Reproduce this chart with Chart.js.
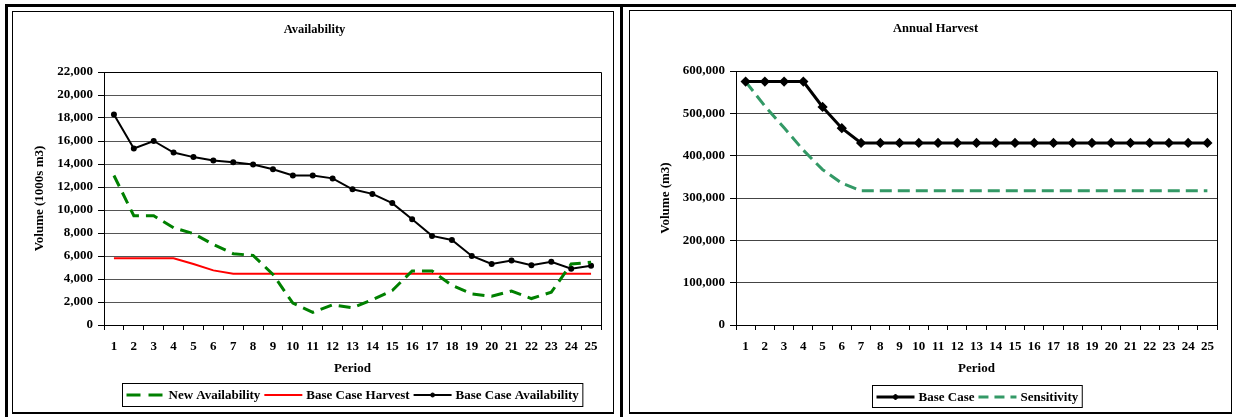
<!DOCTYPE html>
<html>
<head>
<meta charset="utf-8">
<script src="https://cdn.jsdelivr.net/npm/chart.js@4.4.1/dist/chart.umd.min.js"></script>
<style>
  html, body { margin: 0; padding: 0; background: #fff; }
  body { width: 1236px; height: 417px; position: relative; overflow: hidden; }
  .frame { position: absolute; border-top: 3px solid #000; border-left: 3px solid #000; box-sizing: border-box; }
  .panel { position: absolute; border: 1px solid #000; border-bottom-width: 2px; background: #fff; }
  .panel canvas { position: absolute; left: 0; top: 0; }
</style>
</head>
<body>
<div class="frame" style="left:5px;top:4px;width:1231px;height:413px"></div>
<div class="frame" style="left:620px;top:4px;width:616px;height:413px"></div>
<div class="panel" style="left:12px;top:11px;width:600px;height:400px">
  <canvas id="availabilityChart" width="600" height="400"></canvas>
</div>
<div class="panel" style="left:629px;top:10px;width:601px;height:401px">
  <canvas id="harvestChart" width="601" height="401"></canvas>
</div>
<script>
const periods = ['1', '2', '3', '4', '5', '6', '7', '8', '9', '10', '11', '12', '13',
  '14', '15', '16', '17', '18', '19', '20', '21', '22', '23', '24', '25'];

// Availability (1000s m3)
const newAvailability = [13000, 9500, 9500, 8450, 7950, 7000, 6200, 6050, 4400, 1900, 1100, 1750, 1500,
  2200, 3000, 4700, 4700, 3450, 2700, 2500, 2950, 2300, 2850, 5300, 5450];
const baseCaseHarvest = [5800, 5800, 5800, 5800, 5300, 4750, 4450, 4450, 4450, 4450, 4450, 4450, 4450,
  4450, 4450, 4450, 4450, 4450, 4450, 4450, 4450, 4450, 4450, 4450, 4450];
const baseCaseAvailability = [18300, 15350, 16000, 15000, 14600, 14300, 14150, 13950, 13550, 13000, 13000, 12750, 11800,
  11400, 10600, 9200, 7750, 7400, 6000, 5300, 5600, 5200, 5500, 4900, 5150];

// Annual harvest (m3)
const harvestBaseCase = [575000, 575000, 575000, 575000, 515000, 465000, 430000, 430000, 430000, 430000, 430000, 430000, 430000,
  430000, 430000, 430000, 430000, 430000, 430000, 430000, 430000, 430000, 430000, 430000, 430000];
const harvestSensitivity = [575000, 517000, 466000, 413000, 367000, 335000, 317000, 317000, 317000, 317000, 317000, 317000, 317000,
  317000, 317000, 317000, 317000, 317000, 317000, 317000, 317000, 317000, 317000, 317000, 317000];

const FONT = "'Liberation Serif', 'Times New Roman', serif";

// black frame on top and right of the plot area
const plotBorder = {
  id: 'plotBorder',
  afterDraw(chart) {
    const {ctx, chartArea: a} = chart;
    ctx.save();
    ctx.strokeStyle = '#000';
    ctx.lineWidth = 1;
    ctx.beginPath();
    ctx.moveTo(Math.round(a.left) + 0.5, Math.round(a.top) + 0.5);
    ctx.lineTo(Math.round(a.right) + 0.5, Math.round(a.top) + 0.5);
    ctx.lineTo(Math.round(a.right) + 0.5, Math.round(a.bottom) + 0.5);
    ctx.stroke();
    ctx.restore();
  }
};

// boxed legend under the axis, centred on the plot area
const boxLegend = {
  id: 'boxLegend',
  afterDraw(chart, args, opts) {
    const {ctx, chartArea: a} = chart;
    ctx.save();
    ctx.font = 'bold 13px ' + FONT;
    const items = chart.data.datasets.map(ds => ({ds, w: ctx.measureText(ds.label).width}));
    const total = opts.pad * 2 + items.reduce((s, it) => s + opts.sample + opts.gap + it.w, 0) + opts.spacing * (items.length - 1);
    const x0 = Math.round((a.left + a.right) / 2 - total / 2) + 0.5;
    const y0 = opts.top + 0.5;
    ctx.fillStyle = '#fff';
    ctx.fillRect(x0, y0, total, opts.height);
    ctx.strokeStyle = '#000';
    ctx.lineWidth = 1;
    ctx.strokeRect(x0, y0, total, opts.height);
    const cy = Math.round(y0 + opts.height / 2);
    let x = x0 + opts.pad;
    items.forEach(it => {
      const ds = it.ds;
      ctx.save();
      ctx.strokeStyle = ds.borderColor;
      ctx.lineWidth = ds.borderWidth;
      ctx.setLineDash(ds.legendDash || ds.borderDash || []);
      ctx.beginPath();
      ctx.moveTo(x, cy);
      ctx.lineTo(x + opts.sample, cy);
      ctx.stroke();
      ctx.restore();
      if (ds.pointRadius) {
        ctx.fillStyle = ds.pointBackgroundColor;
        ctx.strokeStyle = ds.pointBackgroundColor;
        Chart.helpers.drawPoint(ctx, {pointStyle: ds.pointStyle, radius: ds.pointRadius, rotation: 0, borderWidth: 1}, x + opts.sample / 2, cy);
      }
      x += opts.sample + opts.gap;
      ctx.fillStyle = '#000';
      ctx.textBaseline = 'middle';
      ctx.textAlign = 'left';
      ctx.fillText(ds.label, x, cy + 1);
      x += it.w + opts.spacing;
    });
    ctx.restore();
  }
};

const makeOptions = (cfg) => ({
  responsive: false,
  animation: false,
  layout: {padding: {left: cfg.padLeft, right: cfg.padRight, top: 0, bottom: cfg.padBottom}},
  plugins: {
    legend: {display: false},
    tooltip: {enabled: false},
    title: {
      display: true,
      text: cfg.title,
      color: '#000',
      font: {family: FONT, size: 12.5, weight: 'bold'},
      padding: {top: 10, bottom: 35}
    },
    boxLegend: {top: cfg.legendTop, height: cfg.legendHeight, pad: 4, sample: 38, gap: 4, spacing: 4}
  },
  scales: {
    x: {
      offset: true,
      grid: {drawOnChartArea: false, offset: true, tickLength: 5, color: '#000', tickColor: '#000'},
      border: {color: '#000', width: 1},
      ticks: {color: '#000', padding: 9, maxRotation: 0, autoSkip: false, font: {family: FONT, size: 13, weight: 'bold'}},
      title: {display: true, text: 'Period', color: '#000', padding: {top: 4, bottom: 0}, font: {family: FONT, size: 13, weight: 'bold'}},
      afterFit: s => { s.height = 51; }
    },
    y: {
      min: 0,
      max: cfg.max,
      grid: {color: cfg.gridColor, tickLength: 6, tickColor: '#000'},
      border: {color: '#000', width: 1},
      ticks: {
        stepSize: cfg.step,
        color: '#000',
        padding: 5,
        font: {family: FONT, size: 13, weight: 'bold'},
        callback: v => v.toLocaleString('en-US')
      },
      title: {display: true, text: cfg.yTitle, color: '#000', padding: {top: 4, bottom: 4}, font: {family: FONT, size: 13, weight: 'bold'}},
      afterFit: s => { s.width = cfg.yWidth; }
    }
  }
});

new Chart(document.getElementById('availabilityChart'), {
  type: 'line',
  data: {
    labels: periods,
    datasets: [
      {label: 'New Availability', data: newAvailability, borderColor: '#008000', borderWidth: 3,
        borderDash: [12, 7], legendDash: [14, 8], pointRadius: 0, tension: 0, fill: false},
      {label: 'Base Case Harvest', data: baseCaseHarvest, borderColor: '#ff0000', borderWidth: 2,
        pointRadius: 0, tension: 0, fill: false},
      {label: 'Base Case Availability', data: baseCaseAvailability, borderColor: '#000', borderWidth: 2,
        pointRadius: 2, pointStyle: 'circle', pointBackgroundColor: '#000', pointBorderColor: '#000',
        tension: 0, fill: false}
    ]
  },
  options: makeOptions({
    title: 'Availability', yTitle: 'Volume (1000s m3)', max: 22000, step: 2000,
    padLeft: 15, yWidth: 76, padRight: 12, padBottom: 36,
    legendTop: 371, legendHeight: 23, gridColor: '#555'
  }),
  plugins: [plotBorder, boxLegend]
});

new Chart(document.getElementById('harvestChart'), {
  type: 'line',
  data: {
    labels: periods,
    datasets: [
      {label: 'Base Case', data: harvestBaseCase, borderColor: '#000', borderWidth: 3,
        pointRadius: 3, pointStyle: 'rectRot', pointBackgroundColor: '#000', pointBorderColor: '#000',
        tension: 0, fill: false},
      {label: 'Sensitivity', data: harvestSensitivity, borderColor: '#339966', borderWidth: 3,
        borderDash: [12, 6], legendDash: [10, 6], pointRadius: 0, tension: 0, fill: false}
    ]
  },
  options: makeOptions({
    title: 'Annual Harvest', yTitle: 'Volume (m3)', max: 600000, step: 100000,
    padLeft: 24, yWidth: 82, padRight: 14, padBottom: 36,
    legendTop: 374, legendHeight: 22, gridColor: '#444'
  }),
  plugins: [plotBorder, boxLegend]
});
</script>
</body>
</html>
